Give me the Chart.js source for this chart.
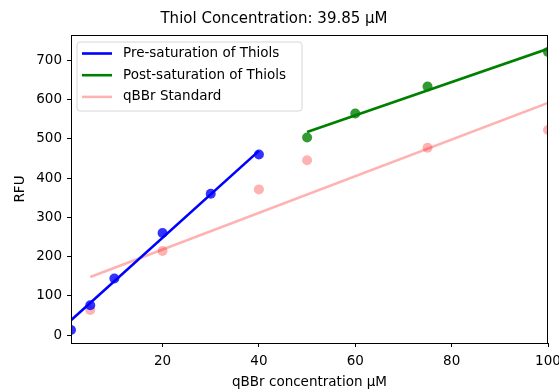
<!DOCTYPE html>
<html>
<head>
<meta charset="utf-8">
<script src="https://cdn.jsdelivr.net/npm/chart.js@4"></script>
<style>
  html, body { margin: 0; padding: 0; background: #fff; }
  #wrap { width: 559px; height: 389px; }
</style>
</head>
<body>
<div id="wrap"><canvas id="chart" width="559" height="389"></canvas></div>
<script>
// measured points
const concPre = [1, 5, 10, 20, 30, 40];
const rfuPre = [13, 76, 144, 260, 360, 460];
const concPost = [50, 60, 75, 100];
const rfuPost = [503, 564, 633, 721];
const concStd = [5, 20, 40, 50, 75, 100];
const rfuStd = [64, 214, 371, 445, 477, 522];

// fitted lines, end points
const fitPreX = [1, 40];
const fitPreY = [38, 469];
const fitPostX = [50, 100];
const fitPostY = [517, 729];
const fitStdX = [5, 100];
const fitStdY = [148, 591];

const xTicks = [20, 40, 60, 80, 100];
const yTicks = [0, 100, 200, 300, 400, 500, 600, 700];

const FONT = 'DejaVu Sans';

function pts(xs, ys) {
    return xs.map((x, i) => ({ x: x, y: ys[i] }));
}

function lineSet(label, xs, ys, color, order) {
    return {
        label: label,
        data: pts(xs, ys),
        showLine: true,
        borderColor: color,
        backgroundColor: color,
        borderWidth: 2.6,
        pointRadius: 0,
        pointHoverRadius: 0,
        clip: 0,
        order: order
    };
}

function dotSet(xs, ys, color, order) {
    return {
        label: '',
        data: pts(xs, ys),
        showLine: false,
        backgroundColor: color,
        borderWidth: 0,
        pointRadius: 5,
        clip: 0,
        order: order,
        noLegend: true
    };
}

// box around the plot + matplotlib-like legend inside the axes
const framePlugin = {
    id: 'frame',
    afterDatasetsDraw(chart) {
        const { ctx, chartArea: a } = chart;
        ctx.save();
        ctx.strokeStyle = '#000';
        ctx.lineWidth = 1;
        ctx.strokeRect(a.left + 0.5, a.top + 0.5, a.right - a.left - 1, a.bottom - a.top);

        const items = chart.data.datasets.filter(d => !d.noLegend);
        const x0 = 77, y0 = 42, w = 225, h = 69, r = 3;
        ctx.beginPath();
        ctx.moveTo(x0 + r, y0);
        ctx.arcTo(x0 + w, y0, x0 + w, y0 + h, r);
        ctx.arcTo(x0 + w, y0 + h, x0, y0 + h, r);
        ctx.arcTo(x0, y0 + h, x0, y0, r);
        ctx.arcTo(x0, y0, x0 + w, y0, r);
        ctx.closePath();
        ctx.fillStyle = 'rgba(255,255,255,0.8)';
        ctx.fill();
        ctx.strokeStyle = '#d6d6d6';
        ctx.lineWidth = 1;
        ctx.stroke();

        ctx.font = '13.5px "' + FONT + '"';
        ctx.textBaseline = 'middle';
        ctx.fillStyle = '#000';
        items.forEach((d, i) => {
            const y = 53.5 + i * 21.7;
            ctx.strokeStyle = d.borderColor;
            ctx.lineWidth = 2.6;
            ctx.beginPath();
            ctx.moveTo(82, y);
            ctx.lineTo(112, y);
            ctx.stroke();
            ctx.fillText(d.label, 123, y);
        });
        ctx.restore();
    }
};

const ctx = document.getElementById('chart').getContext('2d');
new Chart(ctx, {
    type: 'scatter',
    data: {
        datasets: [
            dotSet(concPre, rfuPre, 'rgba(0,0,255,0.8)', 4),
            dotSet(concPost, rfuPost, 'rgba(0,128,0,0.8)', 5),
            dotSet(concStd, rfuStd, 'rgba(255,0,0,0.3)', 6),
            lineSet('Pre-saturation of Thiols', fitPreX, fitPreY, '#0000ff', 1),
            lineSet('Post-saturation of Thiols', fitPostX, fitPostY, '#008000', 2),
            lineSet('qBBr Standard', fitStdX, fitStdY, 'rgba(255,0,0,0.3)', 3)
        ]
    },
    options: {
        responsive: false,
        animation: false,
        events: [],
        layout: { padding: { left: 0, right: 11, top: 0, bottom: 0 } },
        plugins: {
            legend: { display: false },
            tooltip: { enabled: false },
            title: {
                display: true,
                text: 'Thiol Concentration: 39.85 \u03bcM',
                color: '#000',
                font: { family: FONT, size: 15, weight: 'normal' },
                padding: { top: 10, bottom: 7 }
            }
        },
        scales: {
            x: {
                type: 'linear',
                min: 1,
                max: 100,
                afterBuildTicks: s => { s.ticks = xTicks.map(v => ({ value: v })); },
                afterFit: s => { s.height = 46; s.paddingLeft = 0; s.paddingRight = 0; },
                grid: { drawOnChartArea: false, drawTicks: true, tickLength: 4, color: '#000' },
                border: { display: false },
                ticks: {
                    color: '#000',
                    padding: 6,
                    maxRotation: 0,
                    font: { family: FONT, size: 13.5 }
                },
                title: {
                    display: true,
                    text: 'qBBr concentration \u03bcM',
                    color: '#000',
                    font: { family: FONT, size: 13.5, lineHeight: 1.0 },
                    padding: { top: 0, bottom: 0 }
                }
            },
            y: {
                type: 'linear',
                min: -20,
                max: 764,
                afterBuildTicks: s => { s.ticks = yTicks.map(v => ({ value: v })); },
                afterFit: s => { s.width = 71; s.paddingTop = 0; s.paddingBottom = 0; },
                grid: { drawOnChartArea: false, drawTicks: true, tickLength: 4, color: '#000' },
                border: { display: false },
                ticks: {
                    color: '#000',
                    padding: 5,
                    font: { family: FONT, size: 13.5 }
                },
                title: {
                    display: true,
                    text: 'RFU',
                    color: '#000',
                    font: { family: FONT, size: 13.5 },
                    padding: { top: 12, bottom: 0 }
                }
            }
        }
    },
    plugins: [framePlugin]
});
</script>
</body>
</html>
